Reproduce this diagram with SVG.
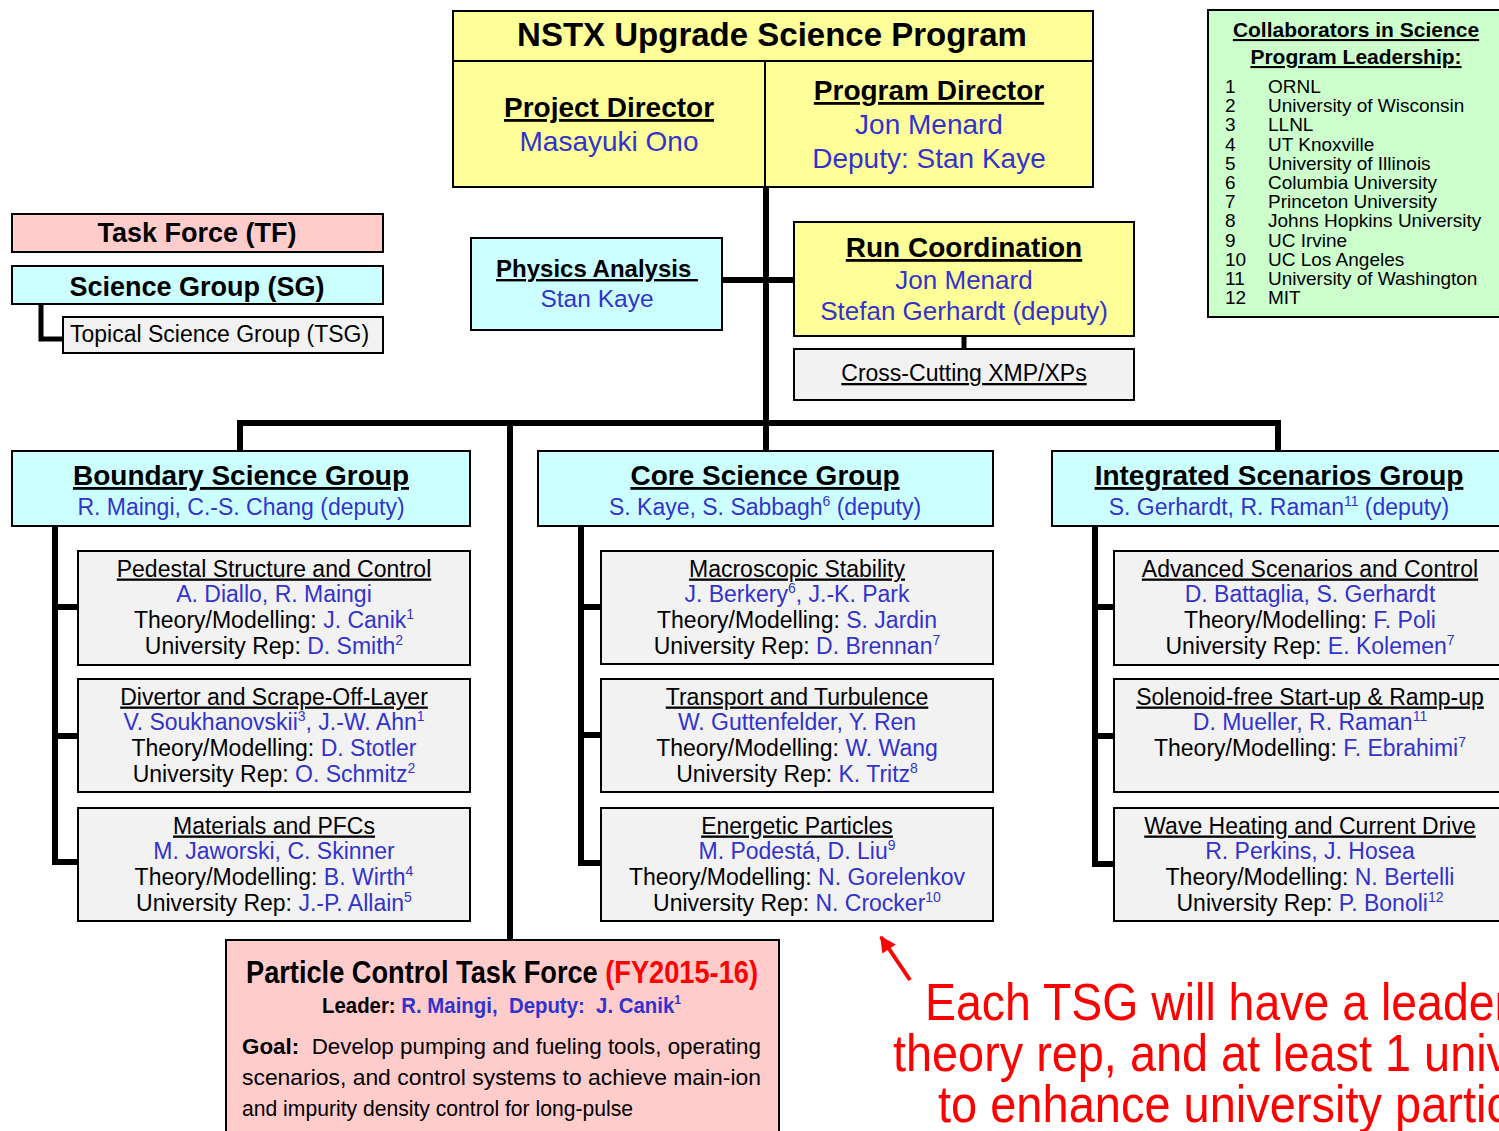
<svg xmlns="http://www.w3.org/2000/svg" width="1499" height="1131" viewBox="0 0 1499 1131">
<style>
text{font-family:"Liberation Sans",Arial,sans-serif;fill:#000}
.box{stroke:#000;stroke-width:2}
.y{fill:#ffff99}.c{fill:#ccffff}.p{fill:#ffcccc}.g{fill:#f2f2f2}.gr{fill:#ccffcc}
.b{font-weight:bold}
.u{text-decoration:underline}
.bl{fill:#3333cc}
.m{text-anchor:middle}
.t23{font-size:23px}
.conn{stroke:#000;stroke-width:6;fill:none;stroke-linejoin:miter}
.sup{font-size:14px}
.red{fill:#ff0000}
</style>
<defs>
<marker id="ah" viewBox="0 0 10 10" refX="9" refY="5" markerWidth="20" markerHeight="16" markerUnits="userSpaceOnUse" orient="auto">
<path d="M0,0 L10,5 L0,10 z" fill="#ff0000"/>
</marker>
</defs>

<g id="connectors">
<path class="conn" d="M766 187 V451"/>
<path class="conn" d="M722 280 H794"/>
<path class="conn" d="M964 336 V349" style="stroke-width:5"/>
<path class="conn" d="M237 423 H1281"/>
<path class="conn" d="M240 423 V451"/>
<path class="conn" d="M1278 423 V451"/>
<path class="conn" d="M510 423 V940"/>
<path class="conn" d="M55 526 V862 H78 M55 607 H78 M55 736 H78"/>
<path class="conn" d="M581 526 V863 H601 M581 607 H601 M581 735 H601"/>
<path class="conn" d="M1095 526 V864 H1114 M1095 607 H1114 M1095 736 H1114"/>
<path class="conn" d="M41 304 V339 H63" style="stroke-width:5"/>
<path d="M910 980 L881 937" stroke="#ff0000" stroke-width="4" marker-end="url(#ah)"/>
</g>

<g id="program">
<rect class="box y" x="453" y="11" width="640" height="176"/>
<path d="M453 61 H1093 M765 61 V187" stroke="#000" stroke-width="2"/>
<text class="b m" x="772" y="46" font-size="33">NSTX Upgrade Science Program</text>
<text class="b m u" x="609" y="117" font-size="28">Project Director</text>
<text class="m bl" x="609" y="151" font-size="28">Masayuki Ono</text>
<text class="b m u" x="929" y="100" font-size="28">Program Director</text>
<text class="m bl" x="929" y="134" font-size="28">Jon Menard</text>
<text class="m bl" x="929" y="168" font-size="28">Deputy: Stan Kaye</text>
</g>

<g id="collaborators">
<rect class="box gr" x="1208" y="10" width="300" height="307"/>
<text class="b m u" x="1356" y="37" font-size="21">Collaborators in Science</text>
<text class="b m u" x="1356" y="64" font-size="21">Program Leadership:</text>
<g font-size="19">
<text x="1225" y="93" font-size="19">1</text><text x="1268" y="93" font-size="19">ORNL</text>
<text x="1225" y="112" font-size="19">2</text><text x="1268" y="112" font-size="19">University of Wisconsin</text>
<text x="1225" y="131" font-size="19">3</text><text x="1268" y="131" font-size="19">LLNL</text>
<text x="1225" y="151" font-size="19">4</text><text x="1268" y="151" font-size="19">UT Knoxville</text>
<text x="1225" y="170" font-size="19">5</text><text x="1268" y="170" font-size="19">University of Illinois</text>
<text x="1225" y="189" font-size="19">6</text><text x="1268" y="189" font-size="19">Columbia University</text>
<text x="1225" y="208" font-size="19">7</text><text x="1268" y="208" font-size="19">Princeton University</text>
<text x="1225" y="227" font-size="19">8</text><text x="1268" y="227" font-size="19">Johns Hopkins University</text>
<text x="1225" y="247" font-size="19">9</text><text x="1268" y="247" font-size="19">UC Irvine</text>
<text x="1225" y="266" font-size="19">10</text><text x="1268" y="266" font-size="19">UC Los Angeles</text>
<text x="1225" y="285" font-size="19">11</text><text x="1268" y="285" font-size="19">University of Washington</text>
<text x="1225" y="304" font-size="19">12</text><text x="1268" y="304" font-size="19">MIT</text>
</g>
</g>

<g id="legend-tf">
<rect class="box p" x="12" y="214" width="371" height="38"/>
<text class="b m" x="197" y="242" font-size="27">Task Force (TF)</text>
</g>
<g id="legend-sg">
<rect class="box c" x="12" y="266" width="371" height="38"/>
<text class="b m" x="197" y="296" font-size="27">Science Group (SG)</text>
</g>
<g id="legend-tsg">
<rect class="box g" x="63" y="317" width="320" height="36"/>
<text x="70" y="342" font-size="23">Topical Science Group (TSG)</text>
</g>

<g id="physics-analysis">
<rect class="box c" x="471" y="238" width="251" height="92"/>
<text class="b m u" x="597" y="277" font-size="24" xml:space="preserve">Physics Analysis </text>
<text class="m bl" x="597" y="307" font-size="24.5">Stan Kaye</text>
</g>

<g id="run-coordination">
<rect class="box y" x="794" y="222" width="340" height="114"/>
<text class="b m u" x="964" y="257" font-size="28">Run Coordination</text>
<text class="m bl" x="964" y="289" font-size="26">Jon Menard</text>
<text class="m bl" x="964" y="320" font-size="26">Stefan Gerhardt (deputy)</text>
</g>

<g id="cross-cutting">
<rect class="box g" x="794" y="349" width="340" height="51"/>
<text class="m u t23" x="964" y="381">Cross-Cutting XMP/XPs</text>
</g>

<g id="boundary">
<rect class="box c" x="12" y="451" width="458" height="75"/>
<text class="b m u" x="241" y="485" font-size="28">Boundary Science Group</text>
<text class="m bl t23" x="241" y="515">R. Maingi, C.-S. Chang (deputy)</text>
</g>
<g id="core">
<rect class="box c" x="538" y="451" width="455" height="75"/>
<text class="b m u" x="765" y="485" font-size="28">Core Science Group</text>
<text class="m bl t23" x="765" y="515">S. Kaye, S. Sabbagh<tspan class="sup" dy="-9">6</tspan><tspan dy="9"> (deputy)</tspan></text>
</g>
<g id="integrated">
<rect class="box c" x="1052" y="451" width="460" height="75"/>
<text class="b m u" x="1279" y="485" font-size="28">Integrated Scenarios Group</text>
<text class="m bl t23" x="1279" y="515">S. Gerhardt, R. Raman<tspan class="sup" dy="-9">11</tspan><tspan dy="9"> (deputy)</tspan></text>
</g>

<g id="tsg-pedestal">
<rect class="box g" x="78" y="551" width="392" height="114"/>
<text class="m u t23" x="274" y="576.5">Pedestal Structure and Control</text>
<text class="m bl t23" x="274" y="602">A. Diallo, R. Maingi</text>
<text class="m t23" x="274" y="628">Theory/Modelling: <tspan class="bl">J. Canik</tspan><tspan class="bl sup" dy="-9">1</tspan></text>
<text class="m t23" x="274" y="653.5">University Rep: <tspan class="bl">D. Smith</tspan><tspan class="bl sup" dy="-9">2</tspan></text>
</g>
<g id="tsg-divertor">
<rect class="box g" x="78" y="679" width="392" height="113"/>
<text class="m u t23" x="274" y="704.5">Divertor and Scrape-Off-Layer</text>
<text class="m bl t23" x="274" y="730">V. Soukhanovskii<tspan class="sup" dy="-9">3</tspan><tspan dy="9">, J.-W. Ahn</tspan><tspan class="sup" dy="-9">1</tspan></text>
<text class="m t23" x="274" y="756">Theory/Modelling: <tspan class="bl">D. Stotler</tspan></text>
<text class="m t23" x="274" y="781.5">University Rep: <tspan class="bl">O. Schmitz</tspan><tspan class="bl sup" dy="-9">2</tspan></text>
</g>
<g id="tsg-materials">
<rect class="box g" x="78" y="808" width="392" height="113"/>
<text class="m u t23" x="274" y="833.5">Materials and PFCs</text>
<text class="m bl t23" x="274" y="859">M. Jaworski, C. Skinner</text>
<text class="m t23" x="274" y="885">Theory/Modelling: <tspan class="bl">B. Wirth</tspan><tspan class="bl sup" dy="-9">4</tspan></text>
<text class="m t23" x="274" y="910.5">University Rep: <tspan class="bl">J.-P. Allain</tspan><tspan class="bl sup" dy="-9">5</tspan></text>
</g>

<g id="tsg-macro">
<rect class="box g" x="601" y="551" width="392" height="113"/>
<text class="m u t23" x="797" y="576.5">Macroscopic Stability</text>
<text class="m bl t23" x="797" y="602">J. Berkery<tspan class="sup" dy="-9">6</tspan><tspan dy="9">, J.-K. Park</tspan></text>
<text class="m t23" x="797" y="628">Theory/Modelling: <tspan class="bl">S. Jardin</tspan></text>
<text class="m t23" x="797" y="653.5">University Rep: <tspan class="bl">D. Brennan</tspan><tspan class="bl sup" dy="-9">7</tspan></text>
</g>
<g id="tsg-transport">
<rect class="box g" x="601" y="679" width="392" height="113"/>
<text class="m u t23" x="797" y="704.5">Transport and Turbulence</text>
<text class="m bl t23" x="797" y="730">W. Guttenfelder, Y. Ren</text>
<text class="m t23" x="797" y="756">Theory/Modelling: <tspan class="bl">W. Wang</tspan></text>
<text class="m t23" x="797" y="781.5">University Rep: <tspan class="bl">K. Tritz</tspan><tspan class="bl sup" dy="-9">8</tspan></text>
</g>
<g id="tsg-energetic">
<rect class="box g" x="601" y="808" width="392" height="113"/>
<text class="m u t23" x="797" y="833.5">Energetic Particles</text>
<text class="m bl t23" x="797" y="859">M. Podestá, D. Liu<tspan class="sup" dy="-9">9</tspan></text>
<text class="m t23" x="797" y="885">Theory/Modelling: <tspan class="bl">N. Gorelenkov</tspan></text>
<text class="m t23" x="797" y="910.5">University Rep: <tspan class="bl">N. Crocker</tspan><tspan class="bl sup" dy="-9">10</tspan></text>
</g>

<g id="tsg-advanced">
<rect class="box g" x="1114" y="551" width="395" height="114"/>
<text class="m u t23" x="1310" y="576.5">Advanced Scenarios and Control</text>
<text class="m bl t23" x="1310" y="602">D. Battaglia, S. Gerhardt</text>
<text class="m t23" x="1310" y="628">Theory/Modelling: <tspan class="bl">F. Poli</tspan></text>
<text class="m t23" x="1310" y="653.5">University Rep: <tspan class="bl">E. Kolemen</tspan><tspan class="bl sup" dy="-9">7</tspan></text>
</g>
<g id="tsg-solenoid">
<rect class="box g" x="1114" y="679" width="395" height="113"/>
<text class="m u t23" x="1310" y="704.5">Solenoid-free Start-up &amp; Ramp-up</text>
<text class="m bl t23" x="1310" y="730">D. Mueller, R. Raman<tspan class="sup" dy="-9">11</tspan></text>
<text class="m t23" x="1310" y="756">Theory/Modelling: <tspan class="bl">F. Ebrahimi</tspan><tspan class="bl sup" dy="-9">7</tspan></text>
</g>
<g id="tsg-wave">
<rect class="box g" x="1114" y="808" width="395" height="113"/>
<text class="m u t23" x="1310" y="833.5">Wave Heating and Current Drive</text>
<text class="m bl t23" x="1310" y="859">R. Perkins, J. Hosea</text>
<text class="m t23" x="1310" y="885">Theory/Modelling: <tspan class="bl">N. Bertelli</tspan></text>
<text class="m t23" x="1310" y="910.5">University Rep: <tspan class="bl">P. Bonoli</tspan><tspan class="bl sup" dy="-9">12</tspan></text>
</g>

<g id="particle-control-tf">
<rect class="box p" x="226" y="940" width="553" height="200"/>
<text class="b" x="246" y="983" font-size="31" textLength="512" lengthAdjust="spacingAndGlyphs">Particle Control Task Force <tspan class="red">(FY2015-16)</tspan></text>
<text class="b" x="322" y="1013" font-size="22" textLength="359" lengthAdjust="spacingAndGlyphs" xml:space="preserve">Leader: <tspan class="bl">R. Maingi,  Deputy:  J. Canik</tspan><tspan class="bl" font-size="13" dy="-9">1</tspan></text>
<text x="242" y="1054" font-size="22" textLength="519" lengthAdjust="spacingAndGlyphs" xml:space="preserve"><tspan class="b">Goal:</tspan>  Develop pumping and fueling tools, operating</text>
<text x="242" y="1085" font-size="22" textLength="519" lengthAdjust="spacingAndGlyphs">scenarios, and control systems to achieve main-ion</text>
<text x="242" y="1116" font-size="22" textLength="391" lengthAdjust="spacingAndGlyphs">and impurity density control for long-pulse</text>
</g>

<g id="note">
<text class="red" x="925" y="1020" font-size="52" textLength="585" lengthAdjust="spacingAndGlyphs">Each TSG will have a leader</text>
<text class="red" x="893" y="1071" font-size="52" textLength="617" lengthAdjust="spacingAndGlyphs">theory rep, and at least 1 univ</text>
<text class="red" x="938" y="1122" font-size="52" textLength="572" lengthAdjust="spacingAndGlyphs">to enhance university partic</text>
</g>
</svg>
